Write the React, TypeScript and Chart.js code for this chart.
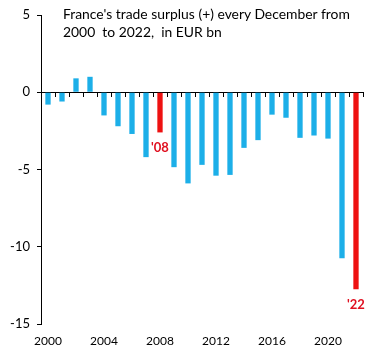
import React, { useEffect, useRef } from "react";
import { Chart, registerables } from "chart.js";

Chart.register(...registerables);

const years: string[] = [
  "2000", "2001", "2002", "2003", "2004", "2005", "2006", "2007", "2008", "2009",
  "2010", "2011", "2012", "2013", "2014", "2015", "2016", "2017", "2018", "2019",
  "2020", "2021", "2022",
];
const surplus: number[] = [
  -0.8, -0.6, 0.9, 1.0, -1.5, -2.2, -2.7, -4.2, -2.6, -4.85,
  -5.9, -4.7, -5.4, -5.35, -3.6, -3.1, -1.45, -1.65, -2.95, -2.8,
  -3.0, -10.75, -12.75,
];
const highlightYears: string[] = ["2008", "2022"];
const highlightLabels: string[] = ["'08", "'22"];
const yTicks: number[] = [5, 0, -5, -10, -15];
const titleLines: string[] = [
  "France's trade surplus (+) every December from",
  "2000  to 2022,  in EUR bn",
];

const BLUE = "#1CAFE8";
const RED = "#EE1111";
const FONT = "Lato, 'Open Sans', sans-serif";

export default function App() {
  const canvasRef = useRef<HTMLCanvasElement | null>(null);

  useEffect(() => {
    if (!canvasRef.current) return;
    const labelPlugin = {
      id: "endLabels",
      afterDatasetsDraw(chart: any) {
        const meta = chart.getDatasetMeta(0);
        const ctx = chart.ctx;
        ctx.save();
        ctx.fillStyle = "#E01020";
        ctx.font = `bold 13px ${FONT}`;
        ctx.textAlign = "center";
        ctx.textBaseline = "top";
        highlightYears.forEach((yr, k) => {
          const i = years.indexOf(yr);
          const el = meta.data[i];
          if (el) ctx.fillText(highlightLabels[k], el.x, el.y + 9);
        });
        ctx.restore();
      },
    };

    const chart = new Chart(canvasRef.current, {
      type: "bar",
      data: {
        labels: years,
        datasets: [
          {
            data: surplus,
            backgroundColor: years.map((y) => (highlightYears.includes(y) ? RED : BLUE)),
            barPercentage: 0.38,
            categoryPercentage: 1,
          },
        ],
      },
      options: {
        animation: false,
        responsive: false,
        layout: { padding: { top: 15, right: 21, left: 0, bottom: 0 } },
        plugins: { legend: { display: false }, tooltip: { enabled: false }, title: { display: false } },
        scales: {
          x: {
            type: "category",
            position: "bottom",
            offset: true,
            grid: { display: false, drawTicks: false },
            border: { display: false },
            ticks: {
              autoSkip: false,
              maxRotation: 0,
              padding: 10,
              color: "#000",
              font: { family: FONT, size: 12 },
              callback: (_v: any, i: number) => (Number(years[i]) % 4 === 0 ? years[i] : ""),
            },
            afterFit: (s: any) => {
              s.height = 36;
            },
          },
          x2: {
            type: "category",
            labels: years,
            position: { y: 0 },
            offset: true,
            grid: {
              offset: true,
              drawOnChartArea: false,
              drawTicks: true,
              tickLength: 4,
              color: "#000",
              lineWidth: 1,
            },
            border: { display: true, color: "#000", width: 1 },
            ticks: { display: false },
          },
          y: {
            min: -15,
            max: 5,
            afterBuildTicks: (s: any) => {
              s.ticks = yTicks.map((v) => ({ value: v }));
            },
            grid: { drawOnChartArea: false, tickLength: 4, color: "#000" },
            border: { display: true, color: "#000", width: 1 },
            ticks: {
              padding: 7,
              color: "#000",
              font: { family: FONT, size: 13 },
            },
            afterFit: (s: any) => {
              s.width = 41;
            },
          },
        },
      },
      plugins: [labelPlugin],
    } as any);
    return () => chart.destroy();
  }, []);

  return (
    <div style={{ position: "absolute", left: 0, top: 0, width: 384, height: 360, background: "#fff" }}>
      <canvas ref={canvasRef} width={384} height={360} style={{ display: "block" }} />
      <div
        style={{
          position: "absolute",
          left: 63,
          top: 5,
          fontFamily: FONT,
          fontSize: 13.9,
          lineHeight: "18px",
          color: "#000",
          whiteSpace: "pre",
        }}
      >
        {titleLines.map((l, i) => (
          <div key={i}>{l}</div>
        ))}
      </div>
    </div>
  );
}
